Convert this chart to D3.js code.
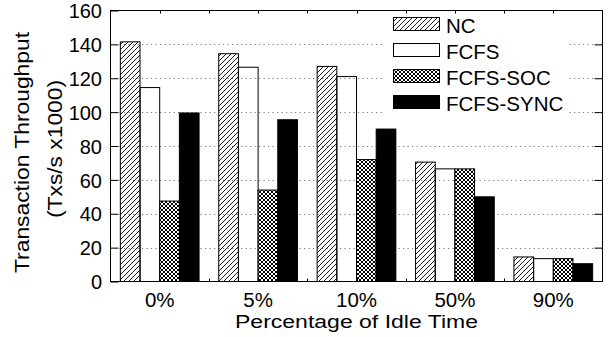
<!DOCTYPE html>
<html>
<head>
<meta charset="utf-8">
<script src="https://cdn.jsdelivr.net/npm/d3@7"></script>
<style>
  body { margin: 0; background: #fff; }
  svg { display: block; font-family: "Liberation Sans", Arial, sans-serif; }
</style>
</head>
<body>
<div id="chart"></div>
<script>
// idle time categories and throughput per scheme (Txs/s x1000)
const categories = ["0%", "5%", "10%", "50%", "90%"];
const seriesNames = ["NC", "FCFS", "FCFS-SOC", "FCFS-SYNC"];
const ncValues = [141.5, 134.5, 127, 70.5, 14.5];
const fcfsValues = [114.5, 126.5, 121, 66.5, 13.5];
const socValues = [47.5, 54, 72, 66.5, 13.5];
const syncValues = [99.5, 95.5, 90, 50, 10.5];
const yTicks = [0, 20, 40, 60, 80, 100, 120, 140, 160];

const seriesValues = [ncValues, fcfsValues, socValues, syncValues];
const fills = ["url(#hatch)", "none", "url(#cross)", "#000"];

const width = 610;
const height = 337;
const plot = { left: 110.5, right: 602.5, top: 10.5, bottom: 281.5 };

const svg = d3.select("#chart").append("svg")
  .attr("width", width)
  .attr("height", height);

// patterns
const defs = svg.append("defs");
const hatch = defs.append("pattern")
  .attr("id", "hatch")
  .attr("patternUnits", "userSpaceOnUse")
  .attr("width", 5)
  .attr("height", 5);
hatch.append("path")
  .attr("d", "M0,5 L5,0 M-1,1 L1,-1 M4,6 L6,4")
  .attr("stroke", "#000")
  .attr("stroke-width", 0.9);

const cross = defs.append("pattern")
  .attr("id", "cross")
  .attr("patternUnits", "userSpaceOnUse")
  .attr("width", 4)
  .attr("height", 4);
cross.append("rect").attr("width", 4).attr("height", 4).attr("fill", "#fff");
cross.append("path")
  .attr("d", "M0,0 L4,4 M4,0 L0,4")
  .attr("stroke", "#000")
  .attr("stroke-width", 1);

// scales
const x0 = d3.scaleBand()
  .domain(categories)
  .range([plot.left, plot.right])
  .paddingInner(0.2)
  .paddingOuter(0.1);

const x1 = d3.scaleBand()
  .domain(seriesNames)
  .range([0, x0.bandwidth()]);

const y = d3.scaleLinear()
  .domain([0, 160])
  .range([plot.bottom, plot.top]);

// dotted grid
svg.append("g")
  .selectAll("line")
  .data(yTicks.filter(t => t > 0 && t < 160))
  .join("line")
  .attr("x1", plot.left)
  .attr("x2", plot.right)
  .attr("y1", d => Math.round(y(d)) + 0.5)
  .attr("y2", d => Math.round(y(d)) + 0.5)
  .attr("stroke", "#777")
  .attr("stroke-dasharray", "1.2,3.3");

// bars
const barData = [];
categories.forEach((c, i) => {
  seriesNames.forEach((s, j) => {
    barData.push({ cat: c, series: s, value: seriesValues[j][i], fill: fills[j] });
  });
});

svg.append("g")
  .selectAll("rect")
  .data(barData)
  .join("rect")
  .attr("x", d => x0(d.cat) + x1(d.series))
  .attr("y", d => y(d.value))
  .attr("width", x1.bandwidth())
  .attr("height", d => y(0) - y(d.value))
  .attr("fill", d => d.fill)
  .attr("stroke", "#000")
  .attr("stroke-width", 1);

// legend (white box hides grid)
const legend = svg.append("g");
legend.append("rect")
  .attr("x", 383)
  .attr("y", 12)
  .attr("width", 185)
  .attr("height", 104)
  .attr("fill", "#fff");

seriesNames.forEach((s, i) => {
  const base = 32.5 + i * 26;
  legend.append("rect")
    .attr("x", 393.5)
    .attr("y", base - 15)
    .attr("width", 46)
    .attr("height", 13)
    .attr("fill", fills[i])
    .attr("stroke", "#000");
  legend.append("text")
    .attr("x", 446)
    .attr("y", base)
    .style("font-size", "20.5px")
    .text(s);
});

// y axis, ticks pointing in
const yAxis = svg.append("g")
  .attr("transform", `translate(${plot.left},0)`)
  .call(d3.axisLeft(y).tickValues(yTicks).tickSizeInner(-8).tickSizeOuter(0).tickPadding(9));
yAxis.select(".domain").remove();
yAxis.selectAll("line").attr("stroke", "#000");
yAxis.selectAll("text")
  .attr("x", -8.5)
  .attr("dy", "0.36em")
  .style("font-size", "20px")
  .style("font-family", "Liberation Sans, Arial, sans-serif")
  .attr("fill", "#000");

const yAxisR = svg.append("g")
  .attr("transform", `translate(${plot.right},0)`)
  .call(d3.axisRight(y).tickValues(yTicks.slice(1, -1)).tickSizeInner(-8).tickSizeOuter(0).tickFormat(""));
yAxisR.select(".domain").remove();
yAxisR.selectAll("line").attr("stroke", "#000");

// x axis labels
const xAxis = svg.append("g")
  .attr("transform", `translate(0,${plot.bottom})`)
  .call(d3.axisBottom(x0).tickSize(0).tickPadding(0));
xAxis.select(".domain").remove();
xAxis.selectAll("text")
  .attr("y", 25.5)
  .attr("dy", null)
  .style("font-size", "20.5px")
  .style("font-family", "Liberation Sans, Arial, sans-serif")
  .attr("fill", "#000");

// small x tics at group centers and boundaries, top and bottom
const step = x0.step();
const xTicks = [];
categories.forEach(c => {
  const mid = x0(c) + x0.bandwidth() / 2;
  xTicks.push(mid, mid + step / 2);
});
xTicks.pop();
svg.append("g")
  .selectAll("path")
  .data(xTicks)
  .join("path")
  .attr("d", d => {
    const xx = Math.round(d) + 0.5;
    return `M${xx},${plot.top} V${plot.top + 3} M${xx},${plot.bottom} V${plot.bottom - 3}`;
  })
  .attr("stroke", "#000");

// frame
svg.append("rect")
  .attr("x", plot.left)
  .attr("y", plot.top)
  .attr("width", plot.right - plot.left)
  .attr("height", plot.bottom - plot.top)
  .attr("fill", "none")
  .attr("stroke", "#000");

// axis titles
svg.append("text")
  .attr("x", (plot.left + plot.right) / 2)
  .attr("y", 328)
  .attr("text-anchor", "middle")
  .attr("textLength", 243)
  .attr("lengthAdjust", "spacingAndGlyphs")
  .style("font-size", "17.5px")
  .text("Percentage of Idle Time");

svg.append("text")
  .attr("transform", "translate(29,152.5) rotate(-90)")
  .attr("text-anchor", "middle")
  .attr("textLength", 241)
  .attr("lengthAdjust", "spacingAndGlyphs")
  .style("font-size", "19.5px")
  .text("Transaction Throughput");

svg.append("text")
  .attr("transform", "translate(62,149) rotate(-90)")
  .attr("text-anchor", "middle")
  .attr("textLength", 138)
  .attr("lengthAdjust", "spacingAndGlyphs")
  .style("font-size", "19.5px")
  .text("(Txs/s x1000)");
</script>
</body>
</html>
